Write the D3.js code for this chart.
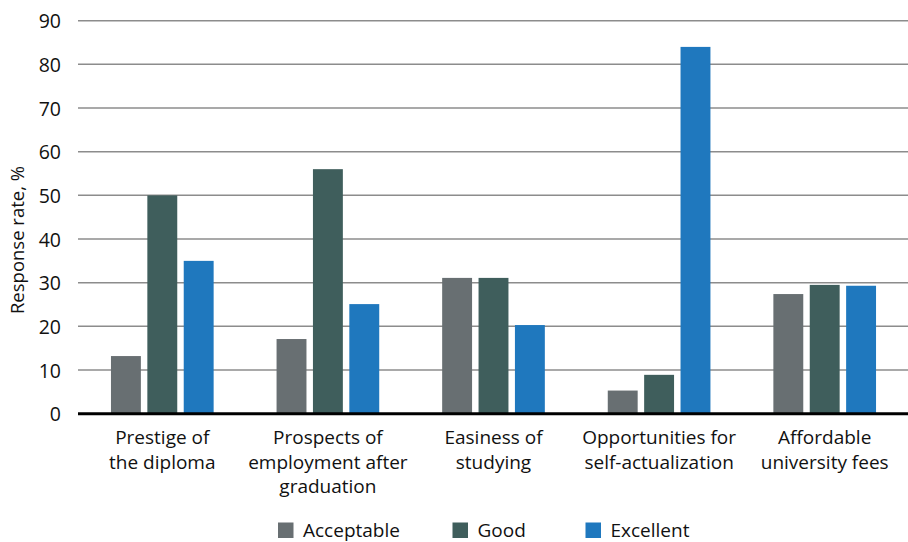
<!DOCTYPE html>
<html>
<head>
<meta charset="utf-8">
<script src="https://cdn.jsdelivr.net/npm/d3@7"></script>
<style>
  html, body { margin: 0; padding: 0; background: #fff; }
  svg { display: block; font-family: "Open Sans", "Noto Sans", sans-serif; }
</style>
</head>
<body>
<svg id="chart" width="908" height="542"></svg>
<script>
const categories = [
  ["Prestige of", "the diploma"],
  ["Prospects of", "employment after", "graduation"],
  ["Easiness of", "studying"],
  ["Opportunities for", "self-actualization"],
  ["Affordable", "university fees"]
];
const seriesNames = ["Acceptable", "Good", "Excellent"];
const acceptable = [13.2, 17.1, 31.1, 5.3, 27.4];
const good = [50.0, 56.0, 31.1, 8.9, 29.5];
const excellent = [35.0, 25.1, 20.3, 84.0, 29.3];
const yTicks = [0, 10, 20, 30, 40, 50, 60, 70, 80, 90];
const colors = ["#686f72", "#3f5e5c", "#1f78be"];

const seriesValues = [acceptable, good, excellent];
const catKeys = categories.map(c => c.join(" "));

const svg = d3.select("#chart");
const plotLeft = 78, plotRight = 908, plotTop = 20.7, plotBottom = 413.7;

const y = d3.scaleLinear().domain([0, 90]).range([plotBottom, plotTop]);
const x0 = d3.scaleBand().domain(catKeys).range([79.5, 907.5]).paddingInner(0.38).paddingOuter(0.19);
const x1 = d3.scaleBand().domain(seriesNames).range([0, x0.bandwidth()]).paddingInner(0.178);

// gridlines
svg.append("g")
  .selectAll("line")
  .data(yTicks.filter(t => t > 0))
  .join("line")
  .attr("x1", plotLeft).attr("x2", plotRight)
  .attr("y1", d => y(d)).attr("y2", d => y(d))
  .attr("stroke", "#8c8c8c").attr("stroke-width", 1.5);

// y axis labels
const yAxis = d3.axisLeft(y).tickValues(yTicks).tickSize(0).tickPadding(0).tickFormat(d3.format("d"));
const ya = svg.append("g").attr("transform", `translate(${plotLeft - 17},0)`).call(yAxis);
ya.select(".domain").remove();
ya.selectAll("text")
  .attr("font-family", "'Open Sans', sans-serif")
  .attr("font-size", 19.5).attr("fill", "#111").attr("dy", "0.36em");

// bars
const groups = svg.append("g").selectAll("g")
  .data(catKeys)
  .join("g")
  .attr("transform", d => `translate(${x0(d)},0)`);

groups.selectAll("rect")
  .data((d, i) => seriesNames.map((s, j) => ({ s, j, v: seriesValues[j][i] })))
  .join("rect")
  .attr("x", d => x1(d.s))
  .attr("width", x1.bandwidth())
  .attr("y", d => y(d.v))
  .attr("height", d => y(0) - y(d.v))
  .attr("fill", d => colors[d.j]);

// x axis baseline
svg.append("line")
  .attr("x1", plotLeft).attr("x2", plotRight)
  .attr("y1", y(0)).attr("y2", y(0))
  .attr("stroke", "#000").attr("stroke-width", 3);

// x labels
const xl = svg.append("g").selectAll("text")
  .data(categories)
  .join("text")
  .attr("text-anchor", "middle")
  .attr("font-size", 19)
  .attr("fill", "#111")
  .attr("x", (d, i) => x0(catKeys[i]) + x0.bandwidth() / 2)
  .attr("y", 444);
xl.selectAll("tspan")
  .data(d => d)
  .join("tspan")
  .attr("x", function () { return d3.select(this.parentNode).attr("x"); })
  .attr("dy", (d, i) => i === 0 ? 0 : 24.5)
  .text(d => d);

// y title
svg.append("text")
  .attr("transform", "translate(24,240) rotate(-90)")
  .attr("text-anchor", "middle")
  .attr("font-size", 18.5)
  .attr("fill", "#111")
  .text("Response rate, %");

// legend
const legendX = [278, 452.5, 585.5];
const lg = svg.append("g").selectAll("g")
  .data(seriesNames)
  .join("g")
  .attr("transform", (d, i) => `translate(${legendX[i]},522.5)`);
lg.append("rect").attr("width", 15.5).attr("height", 15.5).attr("fill", (d, i) => colors[i]);
lg.append("text").attr("x", 25).attr("y", 14.5).attr("font-size", 19).attr("fill", "#111").text(d => d);
</script>
</body>
</html>
